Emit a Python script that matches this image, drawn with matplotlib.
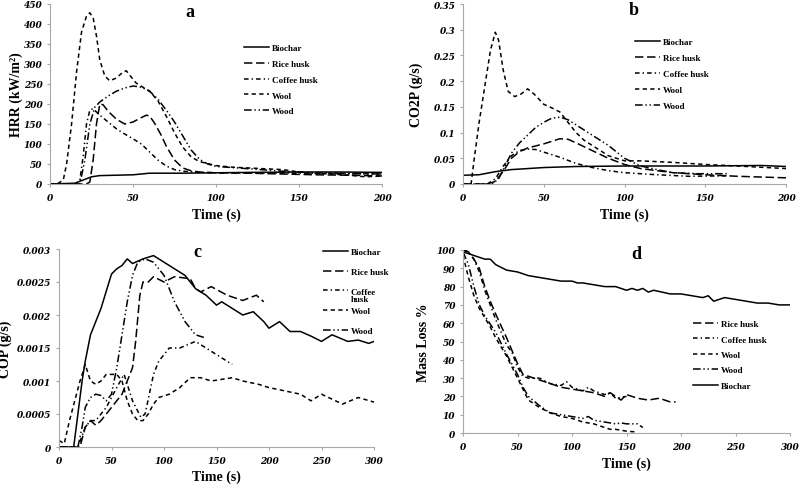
import matplotlib
matplotlib.use("Agg")
import matplotlib.pyplot as plt

# ---- panel a: HRR (kW/m2) ----
a_biochar_t = [0, 15, 20, 25, 30, 40, 50, 60, 80, 100, 120, 150, 175, 200]
a_biochar_v = [0, 2, 10, 18, 21, 22, 23, 27, 27, 28, 29, 30, 30, 29]
a_rice_t = [0, 22, 24, 26, 28, 30, 32, 35, 40, 45, 50, 55, 58, 60, 63, 67, 70, 75, 80, 85, 90, 100, 120, 140, 160, 180, 200]
a_rice_v = [0, 0, 5, 60, 150, 200, 198, 182, 162, 150, 155, 166, 172, 170, 152, 122, 95, 60, 40, 33, 30, 28, 27, 25, 23, 22, 20]
a_coffee_t = [0, 16, 18, 20, 22, 24, 26, 30, 35, 40, 45, 50, 55, 60, 65, 70, 75, 80, 90, 100, 120, 140, 160, 180, 200]
a_coffee_v = [0, 0, 10, 70, 150, 185, 188, 172, 155, 138, 125, 113, 100, 80, 60, 45, 36, 32, 29, 28, 28, 27, 27, 26, 25]
a_wool_t = [0, 5, 8, 10, 13, 16, 19, 22, 24, 26, 28, 30, 33, 36, 40, 44, 46, 48, 52, 56, 60, 65, 70, 75, 80, 85, 90, 100, 110, 120, 130, 140, 150, 160, 170, 180, 190, 200]
a_wool_v = [0, 2, 10, 50, 150, 280, 380, 420, 428, 415, 370, 310, 270, 258, 265, 280, 283, 272, 252, 242, 232, 208, 170, 128, 92, 68, 56, 46, 42, 40, 38, 36, 30, 26, 25, 22, 18, 20]
a_wood_t = [0, 18, 21, 24, 27, 30, 35, 40, 45, 50, 55, 60, 65, 70, 75, 80, 85, 90, 95, 100, 120, 140, 160, 180, 200]
a_wood_v = [0, 0, 60, 150, 192, 205, 220, 232, 240, 245, 242, 232, 212, 185, 155, 120, 85, 62, 50, 44, 38, 32, 28, 26, 25]

# ---- panel b: CO2P (g/s) ----
b_biochar_t = [0, 10, 20, 30, 50, 70, 100, 150, 185, 200]
b_biochar_v = [0.017, 0.018, 0.024, 0.028, 0.032, 0.034, 0.035, 0.035, 0.036, 0.034]
b_rice_t = [0, 15, 20, 25, 30, 35, 40, 50, 60, 65, 70, 80, 90, 100, 110, 130, 150, 170, 200]
b_rice_v = [0, 0, 0.005, 0.025, 0.05, 0.063, 0.07, 0.078, 0.088, 0.087, 0.08, 0.065, 0.05, 0.038, 0.03, 0.022, 0.018, 0.015, 0.012]
b_coffee_t = [0, 15, 20, 25, 30, 35, 40, 45, 50, 60, 70, 80, 90, 100, 120, 140, 165]
b_coffee_v = [0, 0, 0.01, 0.035, 0.055, 0.065, 0.068, 0.067, 0.062, 0.052, 0.04, 0.032, 0.026, 0.022, 0.018, 0.015, 0.016]
b_wool_t = [0, 5, 7, 10, 14, 17, 20, 22, 25, 28, 32, 36, 40, 44, 50, 55, 60, 65, 70, 75, 80, 90, 100, 110, 130, 150, 170, 200]
b_wool_v = [0, 0, 0.05, 0.12, 0.2, 0.26, 0.295, 0.28, 0.22, 0.18, 0.17, 0.175, 0.185, 0.175, 0.155, 0.148, 0.14, 0.12, 0.1, 0.085, 0.075, 0.055, 0.045, 0.045, 0.042, 0.038, 0.035, 0.03]
b_wood_t = [0, 18, 22, 26, 30, 35, 40, 45, 50, 55, 60, 65, 70, 80, 90, 100, 110, 120, 130, 145, 165]
b_wood_v = [0, 0, 0.01, 0.035, 0.06, 0.08, 0.095, 0.11, 0.12, 0.128, 0.13, 0.125, 0.115, 0.095, 0.075, 0.05, 0.035, 0.028, 0.022, 0.02, 0.02]

# ---- panel c: COP (g/s) ----
c_biochar_t = [0, 14, 18, 22, 25, 30, 40, 50, 55, 60, 65, 70, 80, 90, 100, 110, 120, 130, 140, 150, 155, 165, 175, 185, 195, 200, 210, 220, 230, 240, 250, 260, 275, 285, 295, 300]
c_biochar_v = [0, 0, 0.0005, 0.001, 0.0013, 0.0017, 0.0021, 0.00262, 0.0027, 0.00275, 0.00285, 0.00278, 0.00285, 0.0029, 0.0028, 0.0027, 0.0026, 0.0024, 0.0023, 0.00215, 0.0022, 0.0021, 0.002, 0.00205, 0.0019, 0.0018, 0.0019, 0.00175, 0.00175, 0.00168, 0.0016, 0.0017, 0.0016, 0.00162, 0.00157, 0.0016]
c_rice_t = [0, 20, 25, 30, 35, 40, 45, 50, 55, 60, 65, 70, 73, 77, 80, 85, 90, 100, 110, 125, 130, 135, 145, 160, 175, 188, 195]
c_rice_v = [0, 0, 0.0003, 0.0004, 0.00033, 0.0004, 0.0005, 0.0006, 0.0007, 0.0008, 0.001, 0.0012, 0.0016, 0.0023, 0.0025, 0.0025, 0.00258, 0.0025, 0.00258, 0.00255, 0.0024, 0.00235, 0.00243, 0.0023, 0.00222, 0.0023, 0.0022]
c_coffee_t = [0, 18, 25, 30, 35, 45, 55, 62, 66, 70, 78, 82, 86, 90, 95, 105, 115, 130, 140, 150, 165]
c_coffee_v = [0, 0, 0.0003, 0.0004, 0.0004, 0.0006, 0.0009, 0.0011, 0.0009, 0.0007, 0.00045, 0.0005, 0.0008, 0.0011, 0.0013, 0.0015, 0.0015, 0.0016, 0.0015, 0.0014, 0.00125]
c_wool_t = [0, 5, 10, 20, 25, 30, 35, 40, 45, 55, 60, 65, 70, 75, 80, 85, 90, 95, 105, 115, 125, 135, 145, 165, 175, 190, 200, 215, 230, 240, 250, 270, 285, 300]
c_wool_v = [0.0001, 0.00005, 0.0004, 0.001, 0.00125, 0.001, 0.00095, 0.001, 0.0011, 0.0011, 0.001, 0.0007, 0.0005, 0.0004, 0.0004, 0.0005, 0.00065, 0.00075, 0.0008, 0.0009, 0.00105, 0.00105, 0.001, 0.00105, 0.001, 0.00095, 0.0009, 0.00085, 0.0008, 0.0007, 0.0008, 0.00065, 0.00075, 0.00068]
c_wood_t = [0, 18, 22, 25, 30, 35, 40, 45, 50, 55, 60, 65, 70, 75, 82, 90, 100, 110, 120, 130, 140]
c_wood_v = [0, 0, 0.0003, 0.0006, 0.00075, 0.0008, 0.00078, 0.0007, 0.0008, 0.0012, 0.0017, 0.0022, 0.0026, 0.0028, 0.00285, 0.0028, 0.0026, 0.0022, 0.0019, 0.0017, 0.00165]

# ---- panel d: Mass Loss % ----
d_rice_t = [0, 5, 10, 15, 20, 25, 30, 40, 45, 50, 55, 60, 70, 80, 90, 100, 110, 120, 130, 135, 140, 145, 150, 160, 170, 180, 190, 195]
d_rice_v = [100, 99, 95, 90, 80, 72, 65, 52, 45, 38, 32, 31, 29, 27, 25, 24, 23, 22, 20, 22, 20, 18, 21, 19, 18, 19, 17, 17]
d_coffee_t = [0, 5, 10, 15, 20, 30, 40, 45, 50, 55, 60, 70, 80, 90, 95, 100, 110, 115, 120, 130, 135, 140, 150]
d_coffee_v = [100, 99, 95, 88, 78, 62, 48, 44, 36, 31, 30, 30, 27, 26, 28, 25, 23, 25, 23, 21, 22, 19, 20]
d_wool_t = [0, 5, 10, 15, 20, 25, 30, 40, 50, 55, 60, 70, 80, 90, 100, 110, 120, 130, 135, 140, 150, 160]
d_wool_v = [97, 85, 75, 68, 63, 58, 52, 42, 30, 24, 18, 14, 11, 9, 8, 6, 5, 3, 2, 2, 1, 0.5]
d_wood_t = [0, 5, 10, 15, 20, 30, 40, 50, 55, 60, 70, 80, 90, 100, 110, 115, 120, 130, 140, 145, 150, 160, 165]
d_wood_v = [99, 92, 80, 70, 64, 55, 43, 32, 25, 20, 15, 11, 10, 9, 8, 9, 7, 6, 5, 5.5, 5, 5, 3]
d_biochar_t = [0, 10, 20, 25, 30, 40, 50, 60, 70, 80, 90, 100, 105, 110, 120, 130, 140, 150, 155, 160, 165, 170, 175, 190, 200, 210, 220, 225, 230, 240, 250, 260, 270, 280, 290, 300]
d_biochar_v = [99, 97, 95, 95, 92, 89, 88, 86, 85, 84, 83, 83, 82, 82, 81, 80, 80, 78, 79, 78, 79, 77, 78, 76, 76, 75, 74, 75, 72, 74, 73, 72, 71, 71, 70, 70]

styles = {
    "Biochar": "-",
    "Rice husk": (0, (5.5, 2.4)),
    "Coffee husk": (0, (3, 2, 0.9, 2)),
    "Wool": (0, (2.8, 2.2)),
    "Wood": (0, (5, 1.8, 0.9, 1.8, 0.9, 1.8)),
}

# tick labels: bold italic serif (DejaVu Serif has a bold italic face)
plt.rcParams["font.family"] = "DejaVu Serif"
plt.rcParams["font.weight"] = "bold"
plt.rcParams["font.style"] = "italic"
SERIF = "Liberation Serif"
fig = plt.figure(figsize=(8, 4.85), dpi=100)
W, H = 800, 485
lw = 1.1


def make_ax(l, r, t, b):
    ax = fig.add_axes([l / W, 1 - b / H, (r - l) / W, (b - t) / H])
    for s in ["top", "right"]:
        ax.spines[s].set_visible(False)
    for s in ["left", "bottom"]:
        ax.spines[s].set_color("#a8a8a8")
        ax.spines[s].set_linewidth(0.8)
    ax.tick_params(length=2.5, color="#a8a8a8", labelsize=6.5)
    ax.tick_params(axis="x", pad=4)
    ax.tick_params(axis="y", pad=3)
    return ax


def finish(ax, xlabel, ylabel, letter, lx, ly, xlc, ylc):
    ax.set_xlabel(xlabel, fontsize=10, fontweight="bold", fontstyle="normal", family=SERIF)
    ax.set_ylabel(ylabel, fontsize=10, fontweight="bold", fontstyle="normal", family=SERIF)
    ax.xaxis.set_label_coords(0.5, xlc)
    ax.yaxis.set_label_coords(ylc, 0.5)
    ax.text(lx, ly, letter, transform=ax.transAxes, fontsize=13, fontweight="bold",
            fontstyle="normal", family=SERIF, ha="center", va="center")


def legend(ax, x, y, spacing):
    ax.legend(loc="upper left", bbox_to_anchor=(x, y), frameon=False, handlelength=2.8,
              labelspacing=spacing, handletextpad=0.3, borderpad=0, borderaxespad=0,
              prop={"family": SERIF, "weight": "bold", "style": "normal", "size": 6.5})


def draw(ax, series, coffee_label="Coffee husk"):
    for name, t, v in series:
        lab = coffee_label if name == "Coffee husk" else name
        ax.plot(t, v, color="black", lw=lw, ls=styles[name], label=lab)


# panel a
axa = make_ax(50, 382, 5, 185)
draw(axa, [("Biochar", a_biochar_t, a_biochar_v), ("Rice husk", a_rice_t, a_rice_v),
           ("Coffee husk", a_coffee_t, a_coffee_v), ("Wool", a_wool_t, a_wool_v),
           ("Wood", a_wood_t, a_wood_v)])
axa.set_xlim(0, 200)
axa.set_ylim(0, 450)
axa.set_xticks(range(0, 201, 50))
axa.set_yticks(range(0, 451, 50))
legend(axa, 0.584, 0.777, 0.82)
finish(axa, "Time (s)", "HRR (kW/m²)", "a", 0.42, 0.96, -0.128, -0.08)

# panel b
axb = make_ax(463, 786, 5, 185)
draw(axb, [("Biochar", b_biochar_t, b_biochar_v), ("Rice husk", b_rice_t, b_rice_v),
           ("Coffee husk", b_coffee_t, b_coffee_v), ("Wool", b_wool_t, b_wool_v),
           ("Wood", b_wood_t, b_wood_v)])
axb.set_xlim(0, 200)
axb.set_ylim(0, 0.35)
axb.set_xticks(range(0, 201, 50))
axb.set_yticks([0, 0.05, 0.1, 0.15, 0.2, 0.25, 0.3, 0.35])
axb.set_yticklabels(["0", "0.05", "0.1", "0.15", "0.2", "0.25", "0.3", "0.35"])
legend(axb, 0.533, 0.812, 0.85)
finish(axb, "Time (s)", "CO2P (g/s)", "b", 0.53, 0.97, -0.128, -0.125)

# panel c
axc = make_ax(59, 374, 250, 448)
draw(axc, [("Biochar", c_biochar_t, c_biochar_v), ("Rice husk", c_rice_t, c_rice_v),
           ("Coffee husk", c_coffee_t, c_coffee_v), ("Wool", c_wool_t, c_wool_v),
           ("Wood", c_wood_t, c_wood_v)], coffee_label="Coffee")
axc.set_xlim(0, 300)
axc.set_ylim(0, 0.003)
axc.set_xticks(range(0, 301, 50))
axc.set_yticks([0, 0.0005, 0.001, 0.0015, 0.002, 0.0025, 0.003])
axc.set_yticklabels(["0", "0.0005", "0.001", "0.0015", "0.002", "0.0025", "0.003"])
legend(axc, 0.838, 1.005, 1.25)
axc.text(0.926, 0.745, "husk", transform=axc.transAxes, fontsize=6.5, fontweight="bold",
         fontstyle="normal", family=SERIF, ha="left", va="center")
finish(axc, "Time (s)", "COP (g/s)", "c", 0.44, 0.985, -0.116, -0.148)

# panel d
axd = make_ax(463, 790, 251, 434)
draw(axd, [("Rice husk", d_rice_t, d_rice_v), ("Coffee husk", d_coffee_t, d_coffee_v),
           ("Wool", d_wool_t, d_wool_v), ("Wood", d_wood_t, d_wood_v),
           ("Biochar", d_biochar_t, d_biochar_v)])
axd.set_xlim(0, 300)
axd.set_ylim(0, 100)
axd.set_xticks(range(0, 301, 50))
axd.set_yticks(range(0, 101, 10))
legend(axd, 0.703, 0.618, 0.78)
finish(axd, "Time (s)", "Mass Loss %", "d", 0.53, 0.98, -0.131, -0.10)

fig.savefig("out.png", dpi=100)
